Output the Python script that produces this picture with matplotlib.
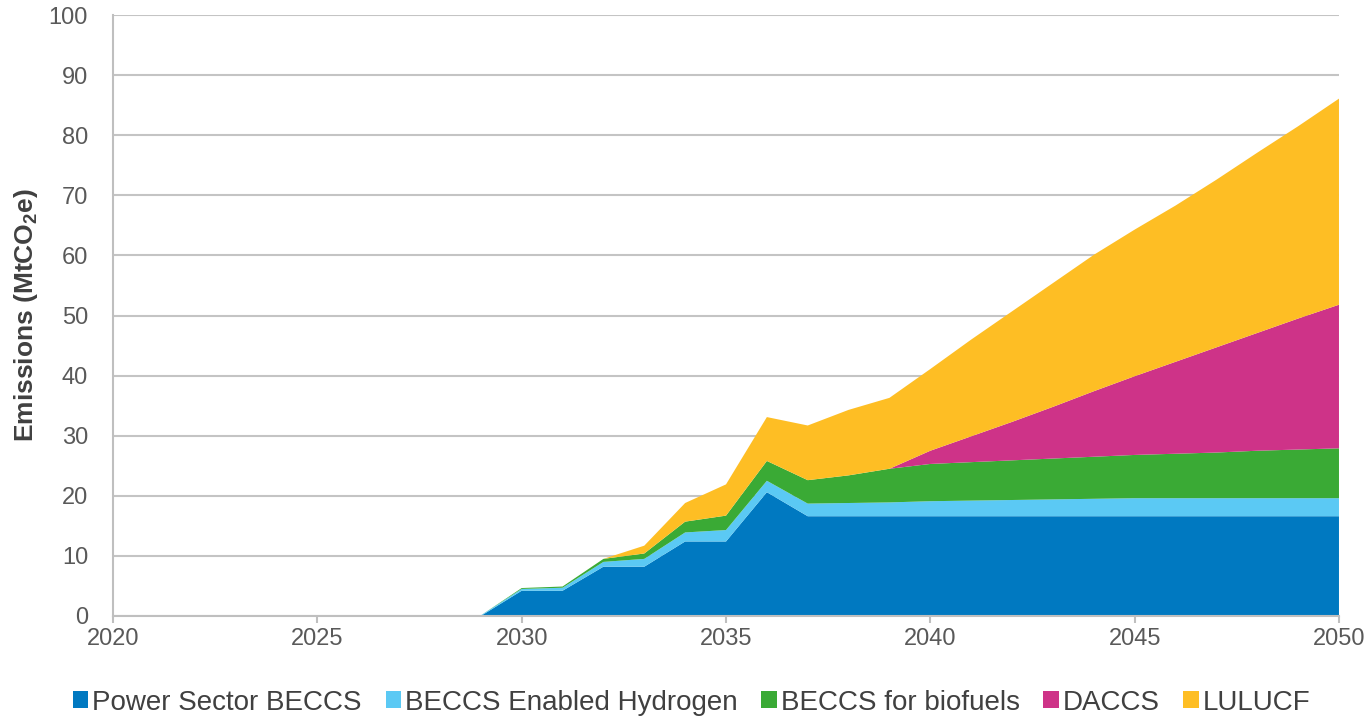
import matplotlib
matplotlib.use("Agg")
import matplotlib.pyplot as plt
from matplotlib.patches import Patch

plt.rcParams['font.family'] = ['Liberation Sans', 'DejaVu Sans']
plt.rcParams['mathtext.fontset'] = 'custom'
plt.rcParams['mathtext.rm'] = 'Liberation Sans:bold'
plt.rcParams['mathtext.bf'] = 'Liberation Sans:bold'

years = list(range(2020, 2051))
series_names = ["Power Sector BECCS", "BECCS Enabled Hydrogen", "BECCS for biofuels", "DACCS", "LULUCF"]
colors = ["#0079C1", "#5BC9F4", "#3AAA35", "#CE3388", "#FEBE24"]

power = [0, 0, 0, 0, 0, 0, 0, 0, 0, 0,
         4.2, 4.2, 8.2, 8.2, 12.4, 12.4, 20.6, 16.6, 16.6, 16.6,
         16.6, 16.6, 16.6, 16.6, 16.6, 16.6, 16.6, 16.6, 16.6, 16.6, 16.6]
hydrogen = [0, 0, 0, 0, 0, 0, 0, 0, 0.1, 0.1,
            0.3, 0.5, 0.8, 1.3, 1.5, 1.9, 1.9, 2.1, 2.2, 2.3,
            2.5, 2.6, 2.7, 2.8, 2.9, 3.0, 3.0, 3.0, 3.0, 3.0, 3.0]
biofuels = [0, 0, 0, 0, 0, 0, 0, 0, 0, 0,
            0.15, 0.2, 0.5, 0.9, 1.8, 2.4, 3.3, 3.9, 4.6, 5.6,
            6.2, 6.4, 6.6, 6.8, 7.0, 7.2, 7.4, 7.6, 7.9, 8.1, 8.3]
daccs = [0, 0, 0, 0, 0, 0, 0, 0, 0, 0,
         0, 0, 0, 0, 0, 0, 0, 0, 0, 0,
         2.2, 4.3, 6.4, 8.6, 10.9, 13.1, 15.3, 17.5, 19.6, 21.8, 23.9]
lulucf = [0, 0, 0, 0, 0, 0, 0, 0, 0, 0,
          0, 0, 0, 1.3, 3.1, 5.2, 7.3, 9.1, 10.9, 11.8,
          13.6, 16.1, 18.4, 20.6, 22.7, 24.4, 26.0, 27.9, 30.0, 32.0, 34.3]

fig = plt.figure(figsize=(13.67, 7.19), dpi=100)
ax = fig.add_axes([0.0827, 0.1433, 0.8968, 0.8357])

ax.stackplot(years, power, hydrogen, biofuels, daccs, lulucf,
             colors=colors, linewidth=0, zorder=3)

ax.set_xlim(2020, 2050)
ax.set_ylim(0, 100)
ax.set_xticks(range(2020, 2051, 5))
ax.set_yticks(range(0, 101, 10))
ax.yaxis.grid(True, color="#C4C4C4", linewidth=1.5, zorder=0)
ax.set_axisbelow(True)
for s in ["top", "right"]:
    ax.spines[s].set_visible(False)
ax.spines["left"].set_color("#BFBFBF")
ax.spines["left"].set_linewidth(1.5)
ax.spines["bottom"].set_color("#BFBFBF")
ax.spines["bottom"].set_linewidth(1.5)
ax.spines["bottom"].set_zorder(5)
ax.tick_params(axis="y", length=0, pad=18, labelsize=17, labelcolor="#595959")
ax.tick_params(axis="x", length=5, width=1.5, color="#BFBFBF", direction="out",
               pad=4, labelsize=17, labelcolor="#595959")

ax.set_ylabel(r"Emissions (MtCO$_{\mathbf{2}}$e)", fontsize=19, fontweight="bold",
              color="#404040", labelpad=6)

handles = [Patch(facecolor=c, edgecolor="none") for c in colors]
fig.legend(handles, series_names, loc="lower center", ncol=5, frameon=False,
           bbox_to_anchor=(0.506, -0.03), fontsize=20, handlelength=0.55,
           handleheight=0.55, handletextpad=0.15, columnspacing=0.85,
           labelcolor="#404040")

fig.savefig("out.png", dpi=100)
